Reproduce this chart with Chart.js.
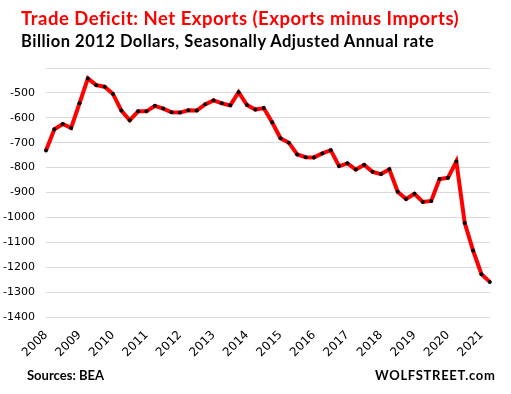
<!DOCTYPE html>
<html>
<head>
<meta charset="utf-8">
<script src="https://cdn.jsdelivr.net/npm/chart.js@4"></script>
<style>
  body { margin: 0; background: #fff; }
  #wrap { position: relative; width: 511px; height: 394px; overflow: hidden; }
  #chart { position: absolute; left: 0; top: 0; }
  .txt { position: absolute; font-family: Lato, "Open Sans", sans-serif; font-weight: bold; line-height: 1; white-space: nowrap; }
  #title { left: 21px; top: 8.5px; font-size: 18.5px; letter-spacing: 0.5px; color: #ff0000; }
  #subtitle { left: 21px; top: 33px; font-size: 16.5px; letter-spacing: 0.5px; color: #000; }
  #source { left: 27px; top: 368.5px; font-size: 13px; color: #000; }
  #brand { left: 375px; top: 368.5px; font-size: 13px; letter-spacing: 0.7px; color: #000; }
</style>
</head>
<body>
<div id="wrap">
  <canvas id="chart" width="511" height="394"></canvas>
  <div class="txt" id="title">Trade Deficit: Net Exports (Exports minus Imports)</div>
  <div class="txt" id="subtitle">Billion 2012 Dollars, Seasonally Adjusted Annual rate</div>
  <div class="txt" id="source">Sources: BEA</div>
  <div class="txt" id="brand">WOLFSTREET.com</div>
</div>
<script>
// Quarterly, 2008 Q1 .. 2021 Q2
const years = [2008, 2009, 2010, 2011, 2012, 2013, 2014, 2015, 2016, 2017, 2018, 2019, 2020, 2021];
const netExports = [
  -731, -646, -625, -641,
  -542, -442, -469, -475,
  -504, -571, -610, -574,
  -574, -552, -563, -578,
  -579, -570, -571, -546,
  -530, -542, -550, -497,
  -549, -567, -561, -618,
  -682, -700, -747, -758,
  -759, -743, -730, -794,
  -783, -808, -789, -817,
  -826, -807, -897, -926,
  -905, -938, -934, -846,
  -841, -775, -1022, -1133,
  -1228, -1259
];
const yTicks = [-400, -500, -600, -700, -800, -900, -1000, -1100, -1200, -1300, -1400];

const labels = netExports.map((v, i) => years[Math.floor(i / 4)] + " Q" + (i % 4 + 1));

const ctx = document.getElementById("chart").getContext("2d");
new Chart(ctx, {
  type: "line",
  data: {
    labels: labels,
    datasets: [
      {
        data: netExports,
        borderColor: "#ff0000",
        borderWidth: 4,
        tension: 0,
        pointRadius: 2,
        pointBackgroundColor: "#000",
        pointBorderWidth: 0,
        clip: 6,
      },
    ],
  },
  options: {
    responsive: false,
    animation: false,
    layout: {
      padding: { top: 68, right: 7, bottom: 27, left: 0 },
    },
    plugins: {
      legend: { display: false },
      tooltip: { enabled: false },
    },
    scales: {
      x: {
        offset: false,
        grid: { display: false, drawTicks: false },
        border: { display: false },
        ticks: {
          autoSkip: false,
          maxRotation: 45,
          minRotation: 45,
          padding: 11,
          color: "#000",
          font: { family: "DejaVu Sans", size: 12 },
          callback: (value, index) => (index % 4 === 0 ? years[index / 4] : ""),
        },
        afterFit: (axis) => { axis.height = 50; },
      },
      y: {
        min: yTicks[yTicks.length - 1],
        max: yTicks[0],
        grid: { color: "#d9d9d9", lineWidth: 1, drawTicks: false },
        border: { display: false },
        ticks: {
          stepSize: 100,
          padding: 11,
          color: "#000",
          font: { family: "DejaVu Sans", size: 11 },
          callback: (value) => (value === yTicks[0] ? "" : value),
        },
        afterFit: (axis) => { axis.width = 46; },
      },
    },
  },
});
</script>
</body>
</html>
